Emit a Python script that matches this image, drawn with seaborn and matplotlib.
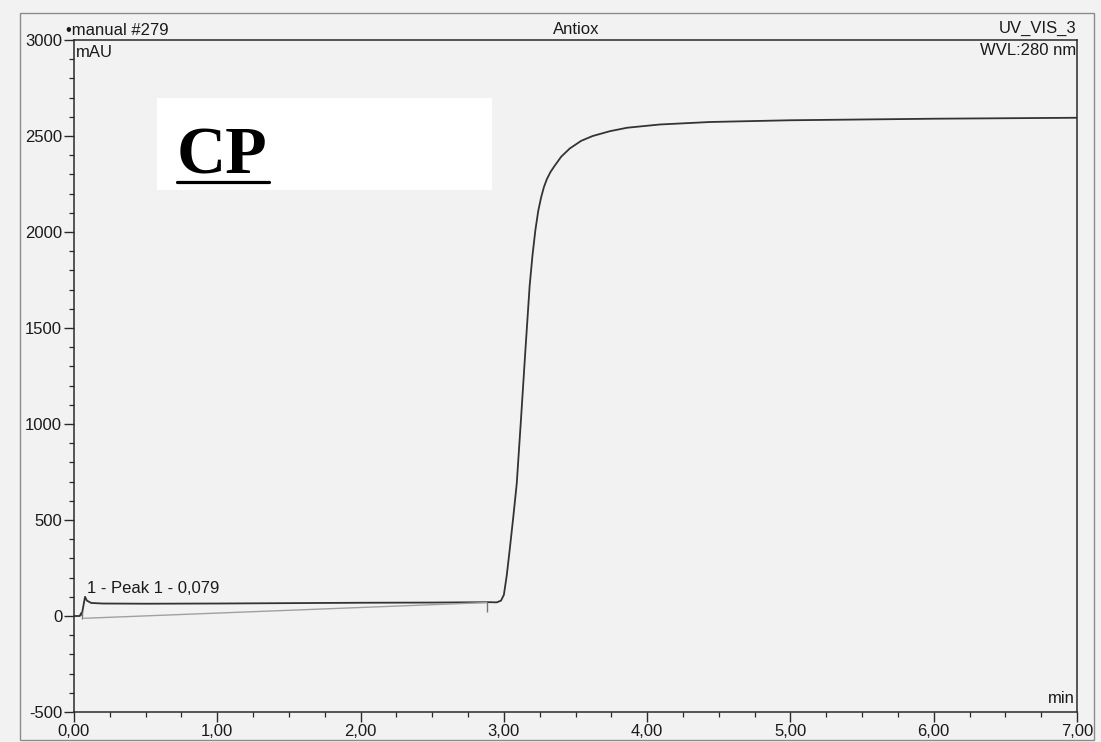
import matplotlib
matplotlib.use("Agg")
import numpy as np
import pandas as pd
import matplotlib.pyplot as plt
import seaborn as sns
from matplotlib.patches import Rectangle
from matplotlib.lines import Line2D
from matplotlib.ticker import MultipleLocator, FuncFormatter

# UV_VIS_3 trace (280 nm), time in minutes, absorbance in mAU
time_min = [0.00, 0.04, 0.05, 0.055, 0.06, 0.077, 0.09, 0.12, 0.20, 0.50,
            1.00, 1.50, 2.00, 2.50, 2.90, 2.95, 2.98, 3.00, 3.02, 3.04,
            3.065, 3.09, 3.12, 3.15, 3.18, 3.20, 3.22, 3.24, 3.26, 3.28,
            3.30, 3.325, 3.35, 3.40, 3.46, 3.54, 3.62, 3.74, 3.86, 4.09,
            4.44, 5.00, 6.00, 7.00]
absorb_mau = [0, 0, 15, 5, 30, 100, 80, 68, 65, 64,
              65, 67, 69, 70, 72, 71, 80, 110, 210, 340,
              510, 690, 1030, 1380, 1720, 1880, 2010, 2110, 2180, 2235,
              2275, 2312, 2340, 2392, 2435, 2475, 2500, 2525, 2543, 2560,
              2573, 2582, 2590, 2595]

# integration baseline of peak 1 and its delimiters
baseline_t = [0.07, 2.88]
baseline_v = [-12, 70]
delim_t = [0.055, 2.88]
delim_lo = [-15, 20]
delim_hi = [20, 72]

peak_label = "1 - Peak 1 - 0,079"
peak_label_pos = (0.09, 118)

x_ticks = [0, 1, 2, 3, 4, 5, 6, 7]
y_ticks = [-500, 0, 500, 1000, 1500, 2000, 2500, 3000]

sns.set_theme(style="ticks")
plt.rcParams["font.family"] = ["Liberation Sans", "DejaVu Sans"]

W, H = 1101, 742
paper = "#f2f2f2"
ink = "#2a2a2a"


def fx(px):
    return px / W


def fy(py):
    return 1 - py / H


fig = plt.figure(figsize=(W / 100, H / 100), dpi=100, facecolor=paper)
ax = fig.add_axes([fx(74), fy(712), fx(1077) - fx(74), fy(40) - fy(712)])
ax.set_facecolor(paper)

df = pd.DataFrame({"t": time_min, "mAU": absorb_mau})
sns.lineplot(data=df, x="t", y="mAU", ax=ax, color="#333333", linewidth=1.3)
ax.plot(baseline_t, baseline_v, color="#a0a0a0", linewidth=1.0)
ax.vlines(delim_t, delim_lo, delim_hi, color="#777777", linewidth=1.0)

ax.set_xlim(0, 7)
ax.set_ylim(-500, 3000)
ax.set_xlabel("")
ax.set_ylabel("")
ax.set_xticks(x_ticks)
ax.set_yticks(y_ticks)
ax.xaxis.set_minor_locator(MultipleLocator(0.25))
ax.yaxis.set_minor_locator(MultipleLocator(100))
ax.xaxis.set_major_formatter(FuncFormatter(lambda v, p: f"{v:.2f}".replace(".", ",")))
ax.yaxis.set_major_formatter(FuncFormatter(lambda v, p: f"{int(v)}"))
ax.tick_params(which="major", direction="out", length=7, width=1.0,
               labelsize=12, pad=1.5, color=ink, labelcolor="#1a1a1a")
ax.tick_params(which="minor", direction="out", length=3.5, width=0.9, color=ink)
for s in ax.spines.values():
    s.set_color(ink)
    s.set_linewidth(1.1)

ax.text(*peak_label_pos, peak_label, fontsize=12, color="#1a1a1a", va="baseline")

# header / footer annotations
fig.text(fx(66), fy(35), "\u2022manual #279", fontsize=12, color="#1a1a1a", va="baseline")
fig.text(fx(576), fy(34), "Antiox", fontsize=12, color="#1a1a1a", va="baseline", ha="center")
fig.text(fx(1076), fy(33), "UV_VIS_3", fontsize=12, color="#1a1a1a", va="baseline", ha="right")
fig.text(fx(1076), fy(55), "WVL:280 nm", fontsize=12, color="#1a1a1a", va="baseline", ha="right")
fig.text(fx(76), fy(57), "mAU", fontsize=12, color="#1a1a1a", va="baseline")
fig.text(fx(1075), fy(703), "min", fontsize=12, color="#1a1a1a", va="baseline", ha="right")

# outer page frame
fig.add_artist(Rectangle((fx(20), fy(740)), fx(1094) - fx(20), fy(13) - fy(740),
                         transform=fig.transFigure, fill=False,
                         edgecolor="#8c8c8c", linewidth=1.0))

# white label panel with underlined "CP"
fig.add_artist(Rectangle((fx(157), fy(190)), fx(492) - fx(157), fy(98) - fy(190),
                         transform=fig.transFigure, facecolor="white",
                         edgecolor="none", zorder=2))
fig.text(fx(177), fy(173), "CP", fontsize=49, fontweight="bold",
         family=["Liberation Serif", "DejaVu Serif"], color="black",
         va="baseline", zorder=3)
fig.add_artist(Line2D([fx(177), fx(269)], [fy(182), fy(182)],
                      transform=fig.transFigure, color="black",
                      linewidth=2.3, zorder=3))

fig.savefig("out.png", dpi=100, facecolor=paper)
